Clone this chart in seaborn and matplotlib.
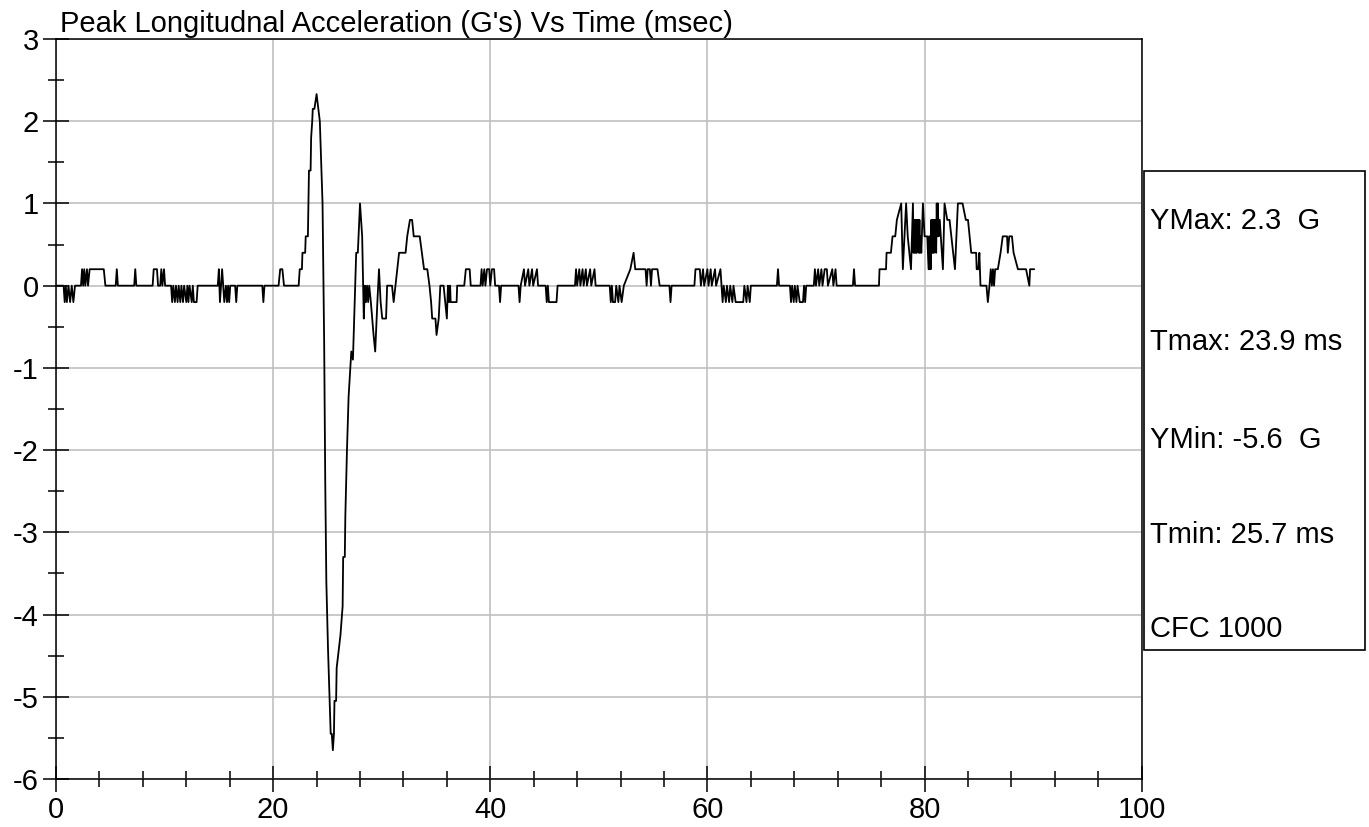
import pandas as pd
import seaborn as sns
import matplotlib
matplotlib.use('Agg')
import matplotlib.pyplot as plt
from matplotlib.ticker import MultipleLocator
from matplotlib.patches import Rectangle

# --- data (time in msec, acceleration in G's) ---
# quiet section before impact
t_pre = [0.0, 0.7, 0.8, 0.9, 1.0, 1.15, 1.3, 1.45, 1.6, 1.75,
         2.3, 2.4, 2.5, 2.6, 2.7, 2.85, 2.95, 3.1, 4.4, 4.55,
         5.5, 5.6, 5.7, 7.2, 7.3, 7.4,
         8.9, 9.0, 9.3, 9.4, 9.6, 9.7, 9.8, 9.95, 10.05,
         10.6, 10.7, 10.8, 10.95, 11.05, 11.2, 11.3, 11.45, 11.55, 11.7,
         11.8, 12.0, 12.1, 12.2, 12.3, 12.5, 12.6, 12.7, 12.95, 13.05,
         14.9, 15.0, 15.1, 15.2, 15.3, 15.4, 15.5, 15.65, 15.75, 15.85,
         15.95, 16.05, 16.5, 16.6, 16.7,
         19.0, 19.1, 19.2, 20.5, 20.65, 20.85, 21.0, 22.35]
g_pre = [0, 0, -0.2, 0, -0.2, 0, -0.2, 0, -0.2, 0,
         0, 0.2, 0, 0.2, 0, 0.2, 0, 0.2, 0.2, 0,
         0, 0.2, 0, 0, 0.2, 0,
         0, 0.2, 0.2, 0, 0, 0.2, 0, 0.2, 0,
         0, -0.2, 0, -0.2, 0, -0.2, 0, -0.2, 0, -0.2,
         0, -0.2, 0, -0.2, 0, -0.2, 0, -0.2, -0.2, 0,
         0, 0.2, -0.2, 0, 0.2, 0, -0.2, 0, -0.2, 0,
         -0.2, 0, 0, -0.2, 0,
         0, -0.2, 0, 0, 0.2, 0.2, 0, 0]

# impact pulse
t_pulse = [22.45, 22.65, 22.7, 22.95, 23.0, 23.2, 23.25, 23.3, 23.45, 23.5,
           23.6, 23.65, 23.8, 24.0, 24.3, 24.55, 24.7, 24.8, 24.9, 25.05,
           25.2, 25.3, 25.4, 25.5, 25.6, 25.65, 25.8, 25.85, 26.2, 26.4,
           26.45, 26.6, 26.65, 26.8, 26.95, 27.2]
g_pulse = [0.2, 0.2, 0.4, 0.4, 0.6, 0.6, 1.0, 1.4, 1.4, 1.8,
           2.0, 2.15, 2.15, 2.33, 2.0, 1.0, -0.7, -2.4, -3.6, -4.4,
           -5.05, -5.45, -5.45, -5.65, -5.45, -5.05, -5.05, -4.65, -4.25, -3.9,
           -3.3, -3.3, -2.8, -2.0, -1.35, -0.8]

# rebound
t_reb = [27.35, 27.65, 27.8, 28.0, 28.2, 28.35, 28.45, 28.55, 28.65, 28.75,
         28.85, 29.0, 29.25, 29.4, 29.6, 29.75, 29.9, 30.05, 30.4, 30.5,
         30.95, 31.1, 31.6, 32.2, 32.35, 32.6, 32.8, 32.95, 33.5, 33.7,
         33.9, 34.2, 34.4, 34.55, 34.65, 34.95, 35.05, 35.25, 35.4, 35.7,
         36.0, 36.1, 36.2, 36.3, 36.35, 36.9, 36.95, 37.6, 37.75, 38.1,
         38.2]
g_reb = [-0.9, 0.4, 0.4, 1.0, 0.6, -0.4, 0, -0.2, 0, -0.2,
         0, -0.2, -0.6, -0.8, -0.2, 0.2, -0.2, -0.4, -0.4, 0,
         0, -0.2, 0.4, 0.4, 0.6, 0.8, 0.8, 0.6, 0.6, 0.4,
         0.2, 0.2, 0, -0.2, -0.4, -0.4, -0.6, -0.4, 0, 0,
         -0.4, 0, -0.2, 0, -0.2, -0.2, 0, 0, 0.2, 0.2,
         0]

# middle section noise
t_mid = [39.1, 39.2, 39.3, 39.45, 39.55, 39.7, 39.9, 40.0, 40.15, 40.35,
         40.45, 40.8, 40.9, 41.0,
         42.6, 42.7, 42.8, 43.1, 43.2, 43.5, 43.6, 43.85, 43.95, 44.3, 44.4,
         45.1, 45.2, 45.3, 45.4, 46.1, 46.2,
         47.8, 47.9, 48.0, 48.2, 48.3, 48.5, 48.6, 48.8, 48.9, 49.2,
         49.3, 49.6, 49.7,
         51.0, 51.1, 51.2, 51.3, 51.5, 51.6, 51.8, 51.9, 52.1, 52.3,
         52.9, 53.2, 53.35, 54.3, 54.4, 54.5, 54.7, 54.8, 54.9, 55.4, 55.6,
         56.5, 56.6, 56.7,
         58.8, 58.9, 59.3, 59.4, 59.6, 59.7, 60.0, 60.1, 60.3, 60.4,
         60.7, 60.8,
         61.2, 61.3, 61.4, 61.5, 61.7, 61.8, 62.0, 62.1, 62.3, 62.4,
         62.6, 63.3, 63.4, 63.6, 63.7, 63.9, 64.0,
         66.4, 66.5, 66.6,
         67.6, 67.7, 67.8, 67.95, 68.05, 68.2, 68.3, 68.5, 68.8, 68.9,
         69.0, 69.1,
         69.8, 69.9, 70.0, 70.2, 70.3, 70.5, 70.6, 70.8, 71.0, 71.1,
         71.5, 71.6, 71.8, 71.9,
         73.4, 73.5, 73.6, 75.8]
g_mid = [0, 0.2, 0, 0.2, 0, 0.2, 0.2, 0, 0.2, 0.2,
         0, 0, -0.2, 0,
         0, -0.2, 0, 0.2, 0, 0.2, 0, 0.2, 0, 0.2, 0,
         0, -0.2, 0, -0.2, -0.2, 0,
         0, 0.2, 0, 0.2, 0, 0.2, 0, 0.2, 0, 0.2,
         0, 0.2, 0,
         0, -0.2, 0, -0.2, -0.2, 0, -0.2, 0, -0.2, 0,
         0.2, 0.4, 0.2, 0.2, 0, 0.2, 0.2, 0, 0.2, 0.2, 0,
         0, -0.2, 0,
         0, 0.2, 0.2, 0, 0.2, 0, 0.2, 0, 0.2, 0,
         0.2, 0,
         0.2, 0, -0.2, 0, -0.2, 0, -0.2, 0, -0.2, 0,
         -0.2, -0.2, 0, -0.2, 0, -0.2, 0,
         0, 0.2, 0,
         0, -0.2, 0, -0.2, 0, -0.2, 0, -0.2, -0.2, 0,
         -0.2, 0,
         0, 0.2, 0, 0.2, 0, 0.2, 0, 0.2, 0.2, 0,
         0.2, 0, 0.2, 0,
         0, 0.2, 0, 0]

# late rise and end of record
t_late = [75.85, 76.45, 76.5, 76.9, 77.05, 77.3, 77.45, 77.85, 78.0, 78.15,
          78.3, 78.45, 78.75, 78.93, 78.98, 79.03, 79.08, 79.13, 79.18, 79.23,
          79.28, 79.33, 79.38, 79.43, 79.48, 79.53, 79.58, 79.63, 79.7, 79.85,
          80.0, 80.25, 80.37, 80.42, 80.47, 80.52, 80.57, 80.62, 80.67, 80.72,
          80.77, 80.82, 80.87, 80.92, 80.97, 81.02, 81.07, 81.12, 81.17, 81.22,
          81.3, 81.4, 81.5, 81.69, 81.84, 82.09, 82.3, 82.8, 83.07, 83.5,
          83.8, 84.0, 84.3, 84.75, 84.8, 84.95, 85.05, 85.15, 85.7, 85.83,
          85.98, 86.1, 86.2, 86.3, 86.4, 86.5, 86.75, 87.0, 87.2, 87.6,
          87.67, 87.8, 88.05, 88.2, 88.6, 89.35, 89.65, 89.72, 90.1]
g_late = [0.2, 0.2, 0.4, 0.4, 0.6, 0.6, 0.8, 1.0, 0.2, 0.6,
          1.0, 0.6, 0.2, 1.0, 0.4, 0.8, 0.4, 0.8, 0.4, 0.8,
          0.4, 0.8, 0.6, 0.8, 0.4, 0.8, 0.4, 0.6, 0.4, 1.0,
          0.6, 0.6, 0.2, 0.6, 0.2, 0.6, 0.2, 0.8, 0.4, 0.8,
          0.4, 0.8, 0.4, 0.8, 0.6, 0.8, 0.4, 1.0, 0.6, 1.0,
          0.6, 0.8, 0.6, 0.2, 1.0, 0.8, 0.8, 0.2, 1.0, 1.0,
          0.8, 0.8, 0.4, 0.4, 0.2, 0.2, 0.4, 0, 0, -0.2,
          0, 0.2, 0, 0.2, 0, 0.2, 0.2, 0.4, 0.6, 0.6,
          0.4, 0.6, 0.6, 0.4, 0.2, 0.2, 0, 0.2, 0.2]

stats_labels = ['YMax: 2.3  G', 'Tmax: 23.9 ms', 'YMin: -5.6  G',
                'Tmin: 25.7 ms', 'CFC 1000']

df = pd.DataFrame({
    'time': t_pre + t_pulse + t_reb + t_mid + t_late,
    'accel': g_pre + g_pulse + g_reb + g_mid + g_late,
})

sns.set_style('white')
plt.rcParams['font.family'] = ['Liberation Sans', 'DejaVu Sans']
plt.rcParams['text.color'] = 'black'
plt.rcParams['xtick.color'] = 'black'
plt.rcParams['ytick.color'] = 'black'
plt.rcParams['axes.unicode_minus'] = False

W, H = 1369, 827
fig = plt.figure(figsize=(W / 100, H / 100), dpi=100)
ax = fig.add_axes([56 / W, 1 - 779 / H, (1141.7 - 56) / W, (779 - 39) / H])

sns.lineplot(data=df, x='time', y='accel', ax=ax, color='black', lw=1.3,
             estimator=None, sort=False)

ax.set_xlim(0, 100)
ax.set_ylim(-6, 3)
ax.set_xlabel('')
ax.set_ylabel('')
ax.xaxis.set_major_locator(MultipleLocator(20))
ax.xaxis.set_minor_locator(MultipleLocator(4))
ax.yaxis.set_major_locator(MultipleLocator(1))
ax.yaxis.set_minor_locator(MultipleLocator(0.5))
ax.tick_params(which='both', bottom=True, left=True, top=False, right=False)
ax.tick_params(which='major', direction='inout', length=19, width=1.1,
               labelsize=21, pad=3)
ax.tick_params(which='minor', direction='inout', length=11, width=1.1)
ax.grid(which='major', color='#c0c0c0', lw=1.2)
ax.set_axisbelow(True)
for s in ax.spines.values():
    s.set_color('black')
    s.set_linewidth(1.1)

# title sits just above the plot, left aligned
fig.text(60 / W, 1 - 32 / H, "Peak Longitudnal Acceleration (G's) Vs Time (msec)",
         fontsize=21, ha='left', va='baseline')

# stats box at the right
fig.add_artist(Rectangle((1143.7 / W, 1 - 650 / H), (1365 - 1143.7) / W,
                         (650 - 171) / H, transform=fig.transFigure,
                         fill=False, ec='black', lw=1.2))
for lab, py in zip(stats_labels, [221, 342, 440, 535, 629]):
    fig.text(1150 / W, 1 - py / H, lab, fontsize=21, ha='left', va='center')

fig.savefig('out.png', dpi=100)
